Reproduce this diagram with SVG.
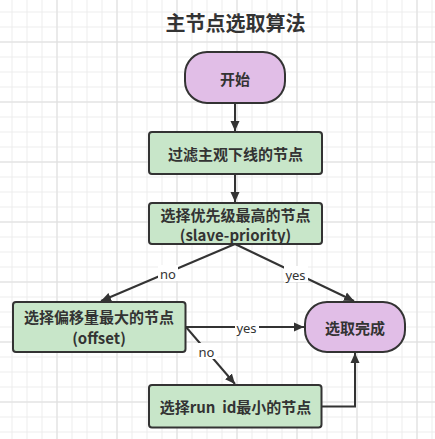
<svg xmlns="http://www.w3.org/2000/svg" width="435" height="439" viewBox="0 0 435 439">
<defs>
<pattern id="grid" x="11.5" y="11.5" width="15" height="15" patternUnits="userSpaceOnUse">
<path d="M0 0.5 H15 M0.5 0 V15" fill="none" stroke="#ececec" stroke-width="1"/>
</pattern>
<pattern id="grid2" x="56.5" y="41.5" width="60" height="60" patternUnits="userSpaceOnUse">
<path d="M0 0.5 H60 M0.5 0 V60" fill="none" stroke="#dedede" stroke-width="1"/>
</pattern>
<marker id="arr" viewBox="0 0 10 10" refX="10" refY="5" markerWidth="10" markerHeight="10" markerUnits="userSpaceOnUse" orient="auto">
<path d="M0 0.5 L10 5 L0 9.5 Z" fill="#333"/>
</marker>
</defs>
<style>
.t{font-family:"Noto Sans CJK SC","Microsoft YaHei",sans-serif;font-weight:bold;font-size:15px;fill:#333;text-anchor:middle;dominant-baseline:central}
.lbl{font-family:"Noto Sans","Liberation Sans",sans-serif;font-size:13px;fill:#333;text-anchor:middle;dominant-baseline:central}
.proc{fill:#c8e6c9;stroke:#333;stroke-width:2}
.term{fill:#e1bee7;stroke:#333;stroke-width:2}
.ln{fill:none;stroke:#333;stroke-width:2;marker-end:url(#arr)}
</style>
<rect width="435" height="439" fill="#fff"/>
<rect width="435" height="439" fill="url(#grid)"/>
<rect width="435" height="439" fill="url(#grid2)"/>
<text x="235.5" y="22" class="t" style="font-size:20px">主节点选取算法</text>
<g id="connectors">
<line x1="235" y1="103" x2="235" y2="131" class="ln"/>
<line x1="235" y1="174" x2="235" y2="202" class="ln"/>
<line x1="235" y1="244" x2="101" y2="301" class="ln"/>
<line x1="235" y1="244" x2="354" y2="301" class="ln"/>
<line x1="186" y1="327" x2="304" y2="327" class="ln"/>
<line x1="186" y1="327" x2="235" y2="384" class="ln"/>
<polyline points="322,406.5 355,406.5 355,353" class="ln"/>
<rect x="158" y="265" width="20" height="16" fill="#fff"/>
<text x="168" y="273.5" class="lbl">no</text>
<rect x="284" y="266" width="24" height="16" fill="#fff"/>
<text x="295.5" y="274.5" class="lbl">yes</text>
<rect x="235" y="320" width="24" height="16" fill="#fff"/>
<text x="246.5" y="328" class="lbl">yes</text>
<rect x="197" y="343" width="20" height="16" fill="#fff"/>
<text x="206.5" y="351.5" class="lbl">no</text>
</g>
<g id="start">
<rect x="185" y="52" width="100" height="51" rx="22" ry="22" class="term"/>
<text x="235" y="78" class="t">开始</text>
</g>
<g id="filter">
<rect x="149" y="132" width="173" height="42" rx="3" class="proc"/>
<text x="235.5" y="153" class="t">过滤主观下线的节点</text>
</g>
<g id="priority">
<rect x="149" y="203" width="173" height="41" rx="3" class="proc"/>
<text x="235.5" y="214" class="t">选择优先级最高的节点</text>
<text x="235.5" y="234.5" class="t">(slave-priority)</text>
</g>
<g id="offset">
<rect x="13" y="302" width="172.5" height="50" rx="3" class="proc"/>
<text x="99" y="316.5" class="t">选择偏移量最大的节点</text>
<text x="99" y="337" class="t">(offset)</text>
</g>
<g id="done">
<rect x="305" y="302" width="100" height="50" rx="22" ry="22" class="term"/>
<text x="355" y="327" class="t">选取完成</text>
</g>
<g id="runid">
<rect x="149" y="385" width="172.5" height="42.5" rx="3" class="proc"/>
<text x="235.5" y="406.5" class="t" xml:space="preserve">选择run  id最小的节点</text>
</g>
</svg>
